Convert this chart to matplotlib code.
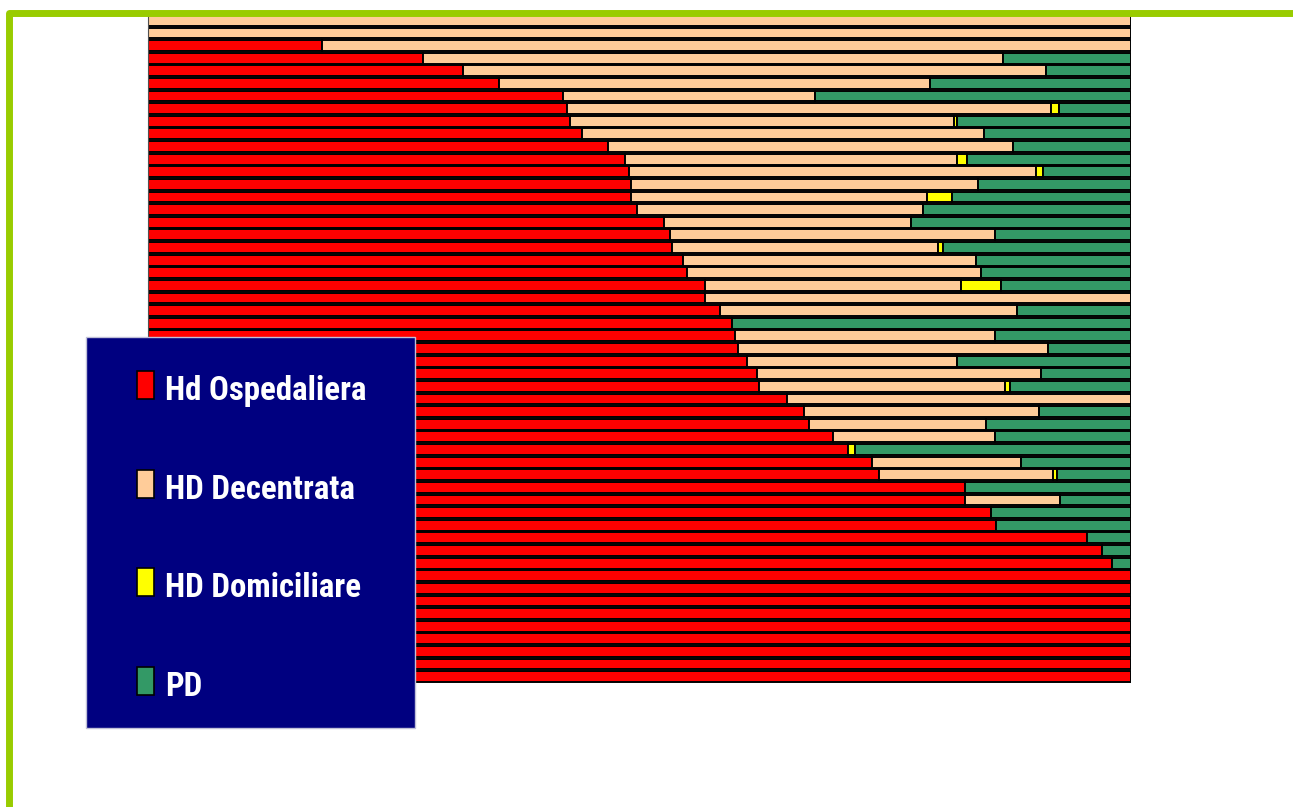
import numpy as np
import matplotlib
matplotlib.use("Agg")
import matplotlib.pyplot as plt
from matplotlib import font_manager
from matplotlib.patches import Rectangle
from matplotlib.lines import Line2D

# share of each dialysis modality per centre (%), one row per centre, top to bottom
hd_ospedaliera = [0.0, 0.0, 17.7, 28.0, 32.0, 35.7, 42.2, 42.6, 42.9, 44.2,
                  46.8, 48.5, 48.9, 49.1, 49.1, 49.7, 52.5, 53.1, 53.3, 54.4,
                  54.8, 56.7, 56.7, 58.2, 59.4, 59.7, 60.0, 60.9, 62.0, 62.2,
                  65.0, 66.7, 67.2, 69.7, 71.2, 73.7, 74.4, 83.1, 83.1, 85.8,
                  86.3, 95.5, 97.1, 98.1, 100.0, 100.0, 100.0, 100.0, 100.0, 100.0,
                  100.0, 100.0, 100.0]
hd_decentrata = [100.0, 100.0, 82.3, 59.0, 59.4, 43.9, 25.7, 49.3, 39.1, 40.8,
                 41.2, 33.8, 41.4, 35.3, 30.1, 29.1, 25.1, 33.1, 27.1, 29.8,
                 29.9, 26.0, 43.3, 30.2, 0.0, 26.5, 31.6, 21.4, 28.8, 25.0,
                 35.0, 23.9, 18.1, 16.5, 0.0, 15.1, 17.7, 0.0, 9.7, 0.0,
                 0.0, 0.0, 0.0, 0.0, 0.0, 0.0, 0.0, 0.0, 0.0, 0.0,
                 0.0, 0.0, 0.0]
hd_domiciliare = [0.0, 0.0, 0.0, 0.0, 0.0, 0.0, 0.0, 0.8, 0.3, 0.0,
                  0.0, 1.0, 0.7, 0.0, 2.6, 0.0, 0.0, 0.0, 0.5, 0.0,
                  0.0, 4.1, 0.0, 0.0, 0.0, 0.0, 0.0, 0.0, 0.0, 0.5,
                  0.0, 0.0, 0.0, 0.0, 0.7, 0.0, 0.4, 0.0, 0.0, 0.0,
                  0.0, 0.0, 0.0, 0.0, 0.0, 0.0, 0.0, 0.0, 0.0, 0.0,
                  0.0, 0.0, 0.0]
pd_share = [0.0, 0.0, 0.0, 13.0, 8.6, 20.4, 32.1, 7.3, 17.7, 15.0,
            12.0, 16.7, 9.0, 15.6, 18.2, 21.2, 22.4, 13.8, 19.1, 15.8,
            15.3, 13.2, 0.0, 11.6, 40.6, 13.8, 8.4, 17.7, 9.2, 12.3,
            0.0, 9.4, 14.7, 13.8, 28.1, 11.2, 7.5, 16.9, 7.2, 14.2,
            13.7, 4.5, 2.9, 1.9, 0.0, 0.0, 0.0, 0.0, 0.0, 0.0,
            0.0, 0.0, 0.0]

labels = ["Hd Ospedaliera", "HD Decentrata", "HD Domiciliare", "PD"]
colors = ["#FF0000", "#FFCC99", "#FFFF00", "#339966"]

W, H = 1293, 807

# narrowest bold face that is installed for the legend text
names = {f.name for f in font_manager.fontManager.ttflist}
leg_family = "DejaVu Sans"
for cand in ["Liberation Sans Narrow", "DejaVu Sans Condensed",
             "Roboto Condensed", "Open Sans Condensed", "Roboto"]:
    if cand in names:
        leg_family = cand
        break

fig = plt.figure(figsize=(W / 100, H / 100), dpi=100)
ax = fig.add_axes([148 / W, 1 - 683 / H, (1131 - 148) / W, (683 - 14) / H])

series = [hd_ospedaliera, hd_decentrata, hd_domiciliare, pd_share]
rows = np.arange(len(hd_ospedaliera))
left = np.zeros(len(rows))
for vals, col, lab in zip(series, colors, labels):
    vals = np.array(vals)
    keep = vals > 0
    ax.barh(rows[keep], vals[keep], left=left[keep], height=0.86,
            color=col, edgecolor="black", linewidth=1.4, label=lab)
    left += vals

ax.set_xlim(0, 100)
ax.set_ylim(len(rows) - 0.5, -0.5)
ax.set_xticks([])
ax.set_yticks([])
for s in ["top", "right", "bottom"]:
    ax.spines[s].set_visible(False)
ax.spines["left"].set_color("#505050")
ax.spines["left"].set_linewidth(0.8)

# legend panel
fig.add_artist(Rectangle((86 / W, 1 - 728 / H), 329 / W, 391 / H,
                         transform=fig.transFigure, facecolor="#000080",
                         edgecolor="#c0c0d8", linewidth=1, zorder=5))
entry_y = [385, 484, 582, 681]
texts = []
for yc, col, lab in zip(entry_y, colors, labels):
    fig.add_artist(Rectangle((137 / W, 1 - (yc + 14) / H), 17 / W, 28 / H,
                             transform=fig.transFigure, facecolor=col,
                             edgecolor="black", linewidth=1.2, zorder=6))
    t = fig.text(165 / W, 1 - (yc + 15) / H, lab, color="white", fontsize=24,
                 fontweight="bold", va="baseline", ha="left", zorder=7,
                 family=[leg_family, "DejaVu Sans"])
    texts.append(t)

# fit the first label to its width in the original (about 202 px)
renderer = fig.canvas.get_renderer()
w0 = texts[0].get_window_extent(renderer).width
fs = 24 * 202 / w0
for t in texts:
    t.set_fontsize(fs)

# green slide frame
fig.add_artist(Line2D([9 / W, 9 / W, 1.0], [0.0, 1 - 12.5 / H, 1 - 12.5 / H],
                      transform=fig.transFigure, color="#99CC00", linewidth=5,
                      solid_joinstyle="round", zorder=10))

fig.savefig("out.png", dpi=100)
